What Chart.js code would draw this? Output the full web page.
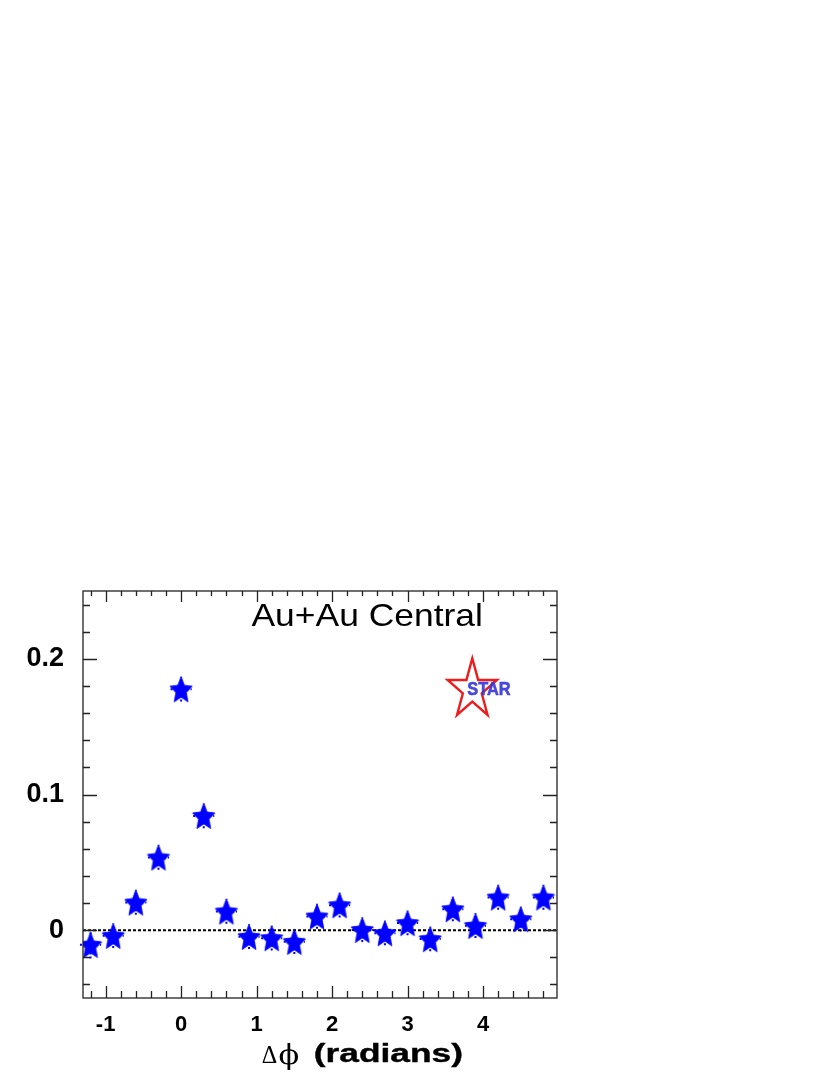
<!DOCTYPE html>
<html><head><meta charset="utf-8">
<script src="https://cdn.jsdelivr.net/npm/chart.js@4.4.1/dist/chart.umd.min.js"></script>
<style>html,body{margin:0;padding:0;background:#fff}#wrap{width:830px;height:1075px;position:relative}canvas{display:block}</style>
</head><body><div id="wrap"><canvas id="c" width="830" height="1075"></canvas></div>
<script>
// ---- data ----
const dphi = [-1.2,-0.9,-0.6,-0.3,0.0,0.3,0.6,0.9,1.2,1.5,1.8,2.1,2.4,2.7,3.0,3.3,3.6,3.9,4.2,4.5,4.8];
const corr = [-0.0108,-0.0042,0.0204,0.0536,0.1776,0.0842,0.0138,-0.0049,-0.0059,-0.0086,0.0101,0.0184,0.0002,-0.0022,0.0052,-0.0066,0.0155,0.0032,0.0241,0.0081,0.0241];
const corrErr = [0.010,0.009,0.009,0.009,0.009,0.009,0.009,0.009,0.009,0.009,0.009,0.009,0.009,0.009,0.009,0.009,0.009,0.009,0.009,0.009,0.009];
const dphiErr = [0.14,0.14,0.14,0.14,0.14,0.14,0.14,0.14,0.14,0.14,0.14,0.14,0.14,0.14,0.14,0.14,0.14,0.14,0.14,0.14,0.14];
const xTickLabels = [-1,0,1,2,3,4];
const yTickLabels = [0,0.1,0.2];
const xRange = [-1.3, 4.98];
const yRange = [-0.05, 0.25];
const panelLabel = 'Au+Au Central';
const logoText = 'STAR';
const xTitleSym = ['Δ','ϕ'];
const xTitleText = '(radians)';

// ---- marker ----
function makeStar(R, ratio, sx, color){
  const c = document.createElement('canvas');
  c.width = c.height = Math.ceil(2*R + 4);
  const g = c.getContext('2d');
  const cx = c.width/2, cy = c.height/2 + R*0.095;
  g.beginPath();
  for (let i=0;i<10;i++){
    const r = i%2 ? R*ratio : R;
    const a = -Math.PI/2 + i*Math.PI/5;
    g.lineTo(cx + sx*r*Math.cos(a), cy + r*Math.sin(a));
  }
  g.closePath(); g.fillStyle = color; g.fill();
  g.lineWidth = 0.8; g.strokeStyle = color; g.stroke();
  return c;
}
const starImg = makeStar(14, 0.47, 0.84, '#0000ff');

function fitInk(ctx, text, font, x0, x1, y0, y1, color, strokeW){
  ctx.save();
  ctx.font = font; ctx.textBaseline = 'alphabetic'; ctx.textAlign = 'left';
  const m = ctx.measureText(text);
  const w = m.actualBoundingBoxLeft + m.actualBoundingBoxRight;
  const h = m.actualBoundingBoxAscent + m.actualBoundingBoxDescent;
  const sx = (x1-x0)/w, sy = (y1-y0)/h;
  ctx.translate(x0, y0);
  ctx.scale(sx, sy);
  ctx.fillStyle = color;
  ctx.fillText(text, m.actualBoundingBoxLeft, m.actualBoundingBoxAscent);
  if (strokeW){ ctx.lineWidth = strokeW; ctx.strokeStyle = color; ctx.lineJoin='round'; ctx.strokeText(text, m.actualBoundingBoxLeft, m.actualBoundingBoxAscent); }
  ctx.restore();
}

const errorBars = {
  id:'errorBars',
  beforeDatasetsDraw(chart){
    const {ctx, scales:{x,y}} = chart;
    ctx.save();
    ctx.strokeStyle = '#0000ff'; ctx.lineWidth = 2; ctx.setLineDash([2,2]);
    dphi.forEach((v,i)=>{
      const px = x.getPixelForValue(v), py = y.getPixelForValue(corr[i]);
      ctx.beginPath();
      ctx.moveTo(x.getPixelForValue(v-dphiErr[i]), py); ctx.lineTo(x.getPixelForValue(v+dphiErr[i]), py);
      ctx.moveTo(px, y.getPixelForValue(corr[i]-corrErr[i])); ctx.lineTo(px, y.getPixelForValue(corr[i]+corrErr[i]));
      ctx.stroke();
    });
    ctx.restore();
  }
};

const frameTicks = {
  id:'frameTicks',
  afterDraw(chart){
    const {ctx, chartArea:a, scales:{x,y}} = chart;
    ctx.save();
    ctx.strokeStyle = '#222'; ctx.lineWidth = 1.3; ctx.setLineDash([]);
    ctx.strokeRect(a.left, a.top, a.right-a.left, a.bottom-a.top);
    ctx.beginPath();
    for (let k=-7;k<=25;k++){
      const v = k*0.2; if (v < xRange[0]-1e-9 || v > xRange[1]+1e-9) continue;
      const major = k%5===0; const px = Math.round(x.getPixelForValue(v))+0.5;
      const Lb = major?12:7, Lt = major?11:5;
      ctx.moveTo(px, a.bottom); ctx.lineTo(px, a.bottom-Lb);
      ctx.moveTo(px, a.top); ctx.lineTo(px, a.top+Lt);
    }
    for (let k=-3;k<=13;k++){
      const v = k*0.02; if (v < yRange[0]-1e-9 || v > yRange[1]+1e-9) continue;
      const major = k%5===0; const py = Math.round(y.getPixelForValue(v))+0.5;
      const L = major?14:7;
      ctx.moveTo(a.left, py); ctx.lineTo(a.left+L, py);
      ctx.moveTo(a.right, py); ctx.lineTo(a.right-L, py);
    }
    ctx.stroke();
    ctx.restore();
  }
};

const texts = {
  id:'texts',
  afterDraw(chart){
    const ctx = chart.ctx;
    fitInk(ctx, panelLabel, '32px "Liberation Sans", Arial, sans-serif', 251.5, 480.5, 603.3, 626, '#000');
    // STAR logo
    ctx.save();
    const R = 31.3, cx = 472.3, cy = 689.6, sx = 0.83;
    ctx.beginPath();
    for (let i=0;i<10;i++){
      const r = i%2 ? R*0.382 : R; const ang = -Math.PI/2 + i*Math.PI/5;
      ctx.lineTo(cx + sx*r*Math.cos(ang), cy + r*Math.sin(ang));
    }
    ctx.closePath(); ctx.strokeStyle = '#ee1c1c'; ctx.lineWidth = 2.4; ctx.stroke();
    ctx.restore();
    fitInk(ctx, logoText, 'bold 18px "Liberation Sans", Arial, sans-serif', 467.3, 510.7, 681.7, 695, 'rgba(55,55,215,0.9)', 0.6);
    // x title
    fitInk(ctx, xTitleSym[0], '24px "Liberation Serif", serif', 261.7, 276.7, 1046.7, 1062.7, '#000');
    fitInk(ctx, xTitleSym[1], '28px "DejaVu Serif", serif', 279.5, 298, 1043, 1070, '#000');
    fitInk(ctx, xTitleText, 'bold 27px "Liberation Sans", Arial, sans-serif', 315, 461.7, 1042.7, 1068, '#000', 0.4);
  }
};

new Chart(document.getElementById('c'), {
  data: {
    datasets: [
      { type:'scatter', data: dphi.map((v,i)=>({x:v, y:corr[i]})), pointStyle: starImg, pointRadius: 12, pointHoverRadius: 12, order: 0 },
      { type:'line', data: [{x:xRange[0], y:0},{x:xRange[1], y:0}], borderColor:'#000', borderWidth:2, borderDash:[3,2], pointRadius:0, fill:false, order: 1 }
    ]
  },
  options: {
    responsive:false, animation:false, devicePixelRatio:1,
    layout:{ padding:{ left:0, top:591, right:273, bottom:0 } },
    plugins:{ legend:{display:false}, tooltip:{enabled:false} },
    scales:{
      x:{ type:'linear', min:xRange[0], max:xRange[1],
        afterBuildTicks: s => { s.ticks = xTickLabels.map(v=>({value:v})); },
        afterFit: s => { s.height = 77; },
        grid:{display:false, drawTicks:false}, border:{display:false},
        ticks:{ color:'#000', padding:14, font:{family:'"Liberation Sans", Arial, sans-serif', size:22, weight:'bold'}, callback: v => String(v) } },
      y:{ type:'linear', min:yRange[0], max:yRange[1],
        afterBuildTicks: s => { s.ticks = yTickLabels.map(v=>({value:v})); },
        afterFit: s => { s.width = 83; },
        grid:{display:false, drawTicks:false}, border:{display:false},
        ticks:{ color:'#000', padding:19, font:{family:'"Liberation Sans", Arial, sans-serif', size:27, weight:'bold'}, callback: v => v===0 ? '0' : v.toFixed(1) } }
    }
  },
  plugins:[errorBars, frameTicks, texts]
});
</script></body></html>
